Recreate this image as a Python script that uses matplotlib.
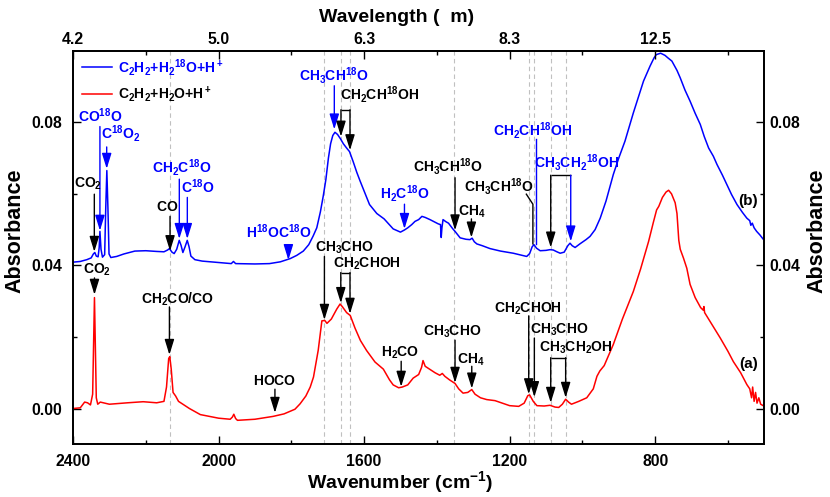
import matplotlib
matplotlib.use("Agg")
import matplotlib.pyplot as plt
from matplotlib.ticker import FixedLocator

plt.rcParams['font.family'] = ['Liberation Sans', 'DejaVu Sans']
plt.rcParams['mathtext.fontset'] = 'custom'
plt.rcParams['mathtext.rm'] = 'Liberation Sans'
plt.rcParams['mathtext.bf'] = 'Liberation Sans:bold'
plt.rcParams['mathtext.it'] = 'Liberation Sans:italic'
plt.rcParams['mathtext.sf'] = 'Liberation Sans'

# ---------------- data ----------------
wn_a = [2400, 2380, 2368, 2360, 2352, 2346, 2343, 2341, 2339, 2336, 2332, 2325, 2300, 2250,
        2207, 2170, 2150, 2143, 2137, 2134, 2130, 2125, 2118, 2110, 2080, 2050, 2000, 1968,
        1962, 1958, 1953, 1948, 1900, 1850, 1820, 1790, 1776, 1760, 1748, 1739, 1726, 1716,
        1708, 1702, 1690, 1675, 1666, 1660, 1648, 1638, 1625, 1610, 1593, 1570, 1547, 1530,
        1520, 1505, 1495, 1480, 1465, 1450, 1442, 1438, 1432, 1420, 1405, 1392, 1385, 1378,
        1365, 1350, 1340, 1328, 1315, 1304, 1295, 1280, 1263, 1240, 1220, 1200, 1175, 1160,
        1150, 1145, 1135, 1125, 1105, 1089, 1075, 1065, 1055, 1046, 1038, 1030, 1010, 988,
        970, 960, 952, 940, 915, 890, 860, 840, 818, 805, 796, 790, 780, 770, 763, 755, 745,
        740, 735, 731, 722, 713, 704, 690, 675, 668, 666, 664, 650, 635, 621, 600, 585, 565,
        548, 540, 535, 532, 528, 524, 520, 515, 510, 503]
abs_a = [0.0000, 0.0002, 0.0018, 0.0016, 0.0010, 0.0040, 0.0200, 0.0310, 0.0200, 0.0030,
         0.0012, 0.0018, 0.0012, 0.0016, 0.0019, 0.0016, 0.0020, 0.0060, 0.0140, 0.0145,
         0.0110, 0.0045, 0.0035, 0.0020, 0.0000, -0.0017, -0.0027, -0.0030, -0.0024, -0.0016,
         -0.0028, -0.0033, -0.0030, -0.0022, -0.0015, -0.0002, 0.0013, 0.0035, 0.0060, 0.0088,
         0.0163, 0.0245, 0.0246, 0.0238, 0.0250, 0.0278, 0.0292, 0.0285, 0.0268, 0.0260,
         0.0225, 0.0190, 0.0162, 0.0130, 0.0110, 0.0080, 0.0066, 0.0058, 0.0060, 0.0066,
         0.0085, 0.0095, 0.0115, 0.0134, 0.0118, 0.0110, 0.0100, 0.0093, 0.0098, 0.0090,
         0.0080, 0.0070, 0.0055, 0.0043, 0.0045, 0.0053, 0.0040, 0.0030, 0.0025, 0.0022,
         0.0015, 0.0008, 0.0006, 0.0015, 0.0036, 0.0038, 0.0020, 0.0008, 0.0007, 0.0009,
         0.0004, 0.0003, 0.0012, 0.0026, 0.0018, 0.0012, 0.0020, 0.0030, 0.0055, 0.0090,
         0.0105, 0.0120, 0.0179, 0.0250, 0.0327, 0.0390, 0.0467, 0.0520, 0.0555, 0.0565,
         0.0590, 0.0605, 0.0610, 0.0600, 0.0575, 0.0545, 0.0470, 0.0445, 0.0420, 0.0392,
         0.0347, 0.0310, 0.0282, 0.0275, 0.0285, 0.0268, 0.0245, 0.0220, 0.0197, 0.0160,
         0.0131, 0.0100, 0.0067, 0.0055, 0.0030, 0.0060, 0.0020, 0.0045, 0.0015, 0.0030,
         0.0012, 0.0008]

wn_b = [2400, 2380, 2362, 2350, 2344, 2340, 2336, 2331, 2328, 2326, 2323, 2319, 2313, 2310,
        2307, 2304, 2301, 2296, 2280, 2260, 2230, 2200, 2170, 2150, 2140, 2135, 2128, 2122,
        2115, 2108, 2103, 2098, 2092, 2086, 2081, 2076, 2065, 2045, 2000, 1965, 1959, 1953,
        1900, 1860, 1830, 1803, 1785, 1767, 1752, 1740, 1730, 1720, 1712, 1705, 1698, 1692,
        1686, 1680, 1673, 1665, 1657, 1648, 1640, 1630, 1620, 1611, 1598, 1585, 1565, 1545,
        1520, 1500, 1489, 1480, 1469, 1460, 1450, 1441, 1432, 1419, 1396, 1390, 1388, 1386,
        1383, 1375, 1368, 1356, 1350, 1336, 1320, 1309, 1303, 1297, 1290, 1275, 1254, 1225,
        1190, 1165, 1153, 1145, 1138, 1133, 1126, 1116, 1100, 1089, 1080, 1070, 1061, 1050,
        1040, 1034, 1028, 1020, 1007, 990, 979, 965, 951, 935, 915, 900, 883, 860, 846, 832,
        814, 803, 797, 785, 773, 765, 754, 740, 731, 718, 704, 690, 676, 665, 653, 640, 630,
        615, 603, 590, 575, 560, 548, 540, 537, 533, 528, 521, 512, 502]
abs_b = [0.0409, 0.0411, 0.0416, 0.0421, 0.0432, 0.0436, 0.0426, 0.0424, 0.0450, 0.0495,
         0.0445, 0.0423, 0.0430, 0.0560, 0.0665, 0.0560, 0.0432, 0.0422, 0.0425, 0.0432,
         0.0440, 0.0441, 0.0439, 0.0438, 0.0443, 0.0447, 0.0437, 0.0433, 0.0445, 0.0470,
         0.0456, 0.0436, 0.0452, 0.0470, 0.0452, 0.0426, 0.0416, 0.0412, 0.0408, 0.0405,
         0.0411, 0.0405, 0.0404, 0.0405, 0.0410, 0.0419, 0.0428, 0.0440, 0.0458, 0.0482,
         0.0505, 0.0550, 0.0595, 0.0640, 0.0700, 0.0740, 0.0763, 0.0772, 0.0766, 0.0754,
         0.0740, 0.0728, 0.0718, 0.0690, 0.0660, 0.0636, 0.0603, 0.0570, 0.0545, 0.0530,
         0.0502, 0.0493, 0.0499, 0.0505, 0.0514, 0.0523, 0.0528, 0.0537, 0.0534, 0.0528,
         0.0516, 0.0514, 0.0478, 0.0505, 0.0528, 0.0522, 0.0518, 0.0502, 0.0495, 0.0477,
         0.0473, 0.0472, 0.0476, 0.0466, 0.0460, 0.0455, 0.0447, 0.0440, 0.0434, 0.0428,
         0.0425, 0.0433, 0.0452, 0.0458, 0.0448, 0.0441, 0.0442, 0.0444, 0.0443, 0.0438,
         0.0434, 0.0437, 0.0455, 0.0462, 0.0455, 0.0450, 0.0460, 0.0472, 0.0481, 0.0500,
         0.0532, 0.0580, 0.0654, 0.0700, 0.0747, 0.0826, 0.0870, 0.0915, 0.0957, 0.0980,
         0.0989, 0.0993, 0.0987, 0.0980, 0.0971, 0.0945, 0.0924, 0.0890, 0.0859, 0.0825,
         0.0794, 0.0760, 0.0728, 0.0705, 0.0682, 0.0652, 0.0626, 0.0598, 0.0570, 0.0548,
         0.0532, 0.0525, 0.0512, 0.0518, 0.0505, 0.0495, 0.0485, 0.0472]

dashed_wn = [2133, 1709, 1664, 1638, 1352, 1148, 1133, 1087, 1044]

xticks_major = [2400, 2000, 1600, 1200, 800]
xticks_minor = [2200, 1800, 1400, 1000, 600]
top_labels = ['4.2', '5.0', '6.3', '8.3', '12.5']
yticks_major = [0.00, 0.04, 0.08]
yticks_minor = [0.02, 0.06]

label_b = r'$\mathbf{C_2H_2{+}H_2{}^{18}O{+}H^+}$'
label_a = r'$\mathbf{C_2H_2{+}H_2O{+}H^+}$'

BLUE = '#0000ff'
RED = '#ff0000'

# ---------------- figure ----------------
fig = plt.figure(figsize=(8.3, 4.97), dpi=100)
ax = fig.add_axes([73 / 830, 52.7 / 497, 691.3 / 830, 393.6 / 497])

for w in dashed_wn:
    ax.axvline(w, color='#c0c0c0', lw=0.8, ls=(0, (4, 3)), zorder=1)

lb, = ax.plot(wn_b, abs_b, color=BLUE, lw=1.1, zorder=3)
la, = ax.plot(wn_a, abs_a, color=RED, lw=1.1, zorder=3)

ax.set_xlim(2400, 500)
ax.set_ylim(-0.01, 0.10)

def style_axis(a):
    for s in a.spines.values():
        s.set_linewidth(1.1)
    a.tick_params(which='major', direction='in', length=5.5, width=1.0)
    a.tick_params(which='minor', direction='in', length=3.2, width=1.0)

ax.xaxis.set_major_locator(FixedLocator(xticks_major))
ax.xaxis.set_minor_locator(FixedLocator(xticks_minor))
ax.yaxis.set_major_locator(FixedLocator(yticks_major))
ax.yaxis.set_minor_locator(FixedLocator(yticks_minor))
ax.set_xticklabels([str(v) for v in xticks_major], fontsize=11.3, fontweight='bold')
ax.set_yticklabels(['%.2f' % v for v in yticks_major], fontsize=11.3, fontweight='bold')
style_axis(ax)
ax.tick_params(axis='x', pad=7)
ax.tick_params(axis='y', pad=8)

axr = ax.twinx()
axr.set_ylim(ax.get_ylim())
axr.yaxis.set_major_locator(FixedLocator(yticks_major))
axr.yaxis.set_minor_locator(FixedLocator(yticks_minor))
axr.set_yticklabels(['%.2f' % v for v in yticks_major], fontsize=11.3, fontweight='bold')
style_axis(axr)
axr.tick_params(axis='y', pad=4)

axt = ax.twiny()
axt.set_xlim(ax.get_xlim())
axt.xaxis.set_major_locator(FixedLocator(xticks_major))
axt.xaxis.set_minor_locator(FixedLocator(xticks_minor))
axt.set_xticklabels(top_labels, fontsize=11.3, fontweight='bold')
style_axis(axt)
axt.tick_params(axis='x', pad=2.5)

fig.text(400 / 830, 9 / 497, r'Wavenumber (cm$^{\mathbf{-1}}$)', ha='center', va='baseline',
         fontsize=14, fontweight='bold')
fig.text(396.5 / 830, (497 - 21.7) / 497, 'Wavelength (  m)', ha='center', va='baseline',
         fontsize=14, fontweight='bold')
fig.text(15 / 830, (497 - 230.5) / 497, 'Absorbance', ha='center', va='center',
         rotation=90, fontsize=15.5, fontweight='bold')
fig.text(817 / 830, (497 - 230.5) / 497, 'Absorbance', ha='center', va='center',
         rotation=90, fontsize=15.5, fontweight='bold')

leg = ax.legend([lb, la], [label_b, label_a], loc='upper left',
                bbox_to_anchor=(0.013, 0.985), frameon=False, fontsize=10,
                handlelength=2.16, handletextpad=0.45, labelspacing=0.45,
                borderpad=0, borderaxespad=0)
leg.get_texts()[0].set_color(BLUE)
leg.get_texts()[1].set_color('black')

# ---------------- annotations ----------------
AST = '-|>,head_length=0.55,head_width=0.17'

def arrow(x, y0, y1, color):
    ax.annotate('', xy=(x, y1), xytext=(x, y0),
                arrowprops=dict(arrowstyle=AST, color=color, lw=1.0,
                                mutation_scale=17, shrinkA=0, shrinkB=0),
                zorder=5)

def label(x, y, s, color='black'):
    txt = r'$\mathbf{' + s + '}$'
    ax.text(x, y, txt, color=color, ha='center', va='baseline', fontsize=10, zorder=6)

def bracket(x1, x2, top, t1, t2, c1='black', c2='black', ch='black'):
    ax.plot([x1, x2], [top, top], color=ch, lw=1.0, zorder=5, solid_capstyle='butt')
    arrow(x1, top, t1, c1)
    arrow(x2, top, t2, c2)

# spectrum (b)
label(2326, 0.0802, r'CO^{18}O', BLUE)
arrow(2326, 0.0788, 0.0497, BLUE)
label(2268, 0.0753, r'C^{18}O_2', BLUE)
arrow(2307.4, 0.0731, 0.0670, BLUE)
label(2360, 0.0617, r'CO_2')
arrow(2341.4, 0.0599, 0.0438, 'black')
label(2142, 0.0552, r'CO')
arrow(2133.3, 0.0537, 0.0440, 'black')
label(2101, 0.0660, r'CH_2C^{18}O', BLUE)
arrow(2107.8, 0.0641, 0.0474, BLUE)
label(2058, 0.0603, r'C^{18}O', BLUE)
arrow(2085.8, 0.0590, 0.0474, BLUE)
label(1834, 0.0477, r'H^{18}OC^{18}O', BLUE)
arrow(1808, 0.0450, 0.0415, BLUE)
label(1684, 0.0917, r'CH_3CH^{18}O', BLUE)
arrow(1681.8, 0.0902, 0.0780, BLUE)
label(1558, 0.0864, r'CH_2CH^{18}OH')
bracket(1663.5, 1638.7, 0.0835, 0.0760, 0.0722)
label(1488, 0.0586, r'H_2C^{18}O', BLUE)
arrow(1489, 0.0571, 0.0502, BLUE)
label(1370, 0.0661, r'CH_3CH^{18}O')
arrow(1350, 0.0645, 0.0498, 'black')
label(1305, 0.0538, r'CH_4')
arrow(1305, 0.0530, 0.0478, 'black')
label(1229, 0.0605, r'CH_3CH^{18}O')
ax.plot([1154, 1136, 1136], [0.0599, 0.0571, 0.0460], color='black', lw=1.0, zorder=5)
label(1137, 0.0764, r'CH_2CH^{18}OH', BLUE)
ax.plot([1128.5, 1128.5], [0.0753, 0.0460], color=BLUE, lw=1.0, zorder=5)
label(1015, 0.0674, r'CH_3CH_2{}^{18}OH', BLUE)
bracket(1087, 1032, 0.0652, 0.0450, 0.0467, c1='black', c2=BLUE)

# spectrum (a)
label(2335, 0.0377, r'CO_2')
arrow(2341, 0.0365, 0.0318, 'black')
label(2113, 0.0292, r'CH_2CO/CO')
arrow(2135, 0.0284, 0.0150, 'black')
label(1847, 0.0065, r'HOCO')
arrow(1845, 0.0054, -0.0012, 'black')
label(1655, 0.0439, r'CH_3CHO')
arrow(1709, 0.0425, 0.0248, 'black')
label(1593, 0.0393, r'CH_2CHOH')
bracket(1664, 1638.7, 0.0380, 0.0295, 0.0265)
label(1500, 0.0144, r'H_2CO')
arrow(1498, 0.0132, 0.0061, 'black')
label(1359, 0.0205, r'CH_3CHO')
arrow(1350, 0.0191, 0.0072, 'black')
label(1306, 0.0126, r'CH_4')
arrow(1304, 0.0118, 0.0056, 'black')
label(1151, 0.0268, r'CH_2CHOH')
arrow(1147.5, 0.0259, 0.0040, 'black')
label(1064, 0.0210, r'CH_3CHO')
arrow(1132, 0.0197, 0.0032, 'black')
label(1019, 0.0158, r'CH_3CH_2OH')
bracket(1087, 1046, 0.0142, 0.0016, 0.0030)

ax.text(544, 0.0579, '(b)', ha='center', va='center', fontsize=11, fontweight='bold')
ax.text(543, 0.0124, '(a)', ha='center', va='center', fontsize=11, fontweight='bold')

fig.savefig('out.png', dpi=100)
